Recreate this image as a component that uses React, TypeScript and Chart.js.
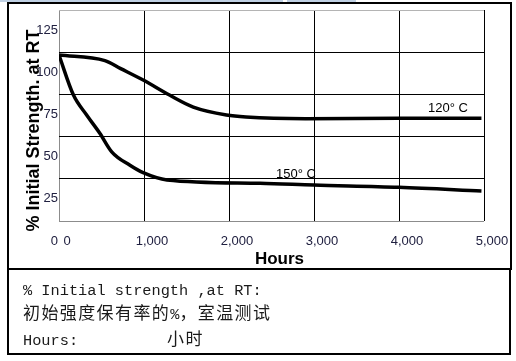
import React, { useEffect, useRef } from 'react';
import { Chart, registerables } from 'chart.js';

Chart.register(...registerables);

// Retention curves: hours of exposure vs. % of initial strength (tested at RT)
const hours120 = [0, 540, 720, 990, 1300, 1580, 1970, 2200, 2900, 4000, 4970];
const strength120 = [98.3, 95, 90.4, 83.5, 74.6, 67.5, 62.8, 61.6, 60.6, 60.8, 60.8];

const hours150 = [0, 170, 325, 480, 620, 835, 990, 1270, 2365, 3000, 4000, 4970];
const strength150 = [98.3, 74.6, 62.8, 52, 41, 33, 28.6, 24.3, 22.3, 21.3, 20, 17.8];

const seriesNames = ['120° C', '150° C'];

const xTitle = 'Hours';
const yTitle = '% Initial Strength. at RT';

const noteLine1 = '% Initial strength ,at RT:';
const noteLine2a = '初始强度保有率的';
const noteLine2b = '%';
const noteLine2c = '，室温测试';
const noteLine3a = 'Hours:';
const noteLine3b = '小时';

const SANS = "'Liberation Sans', Arial, sans-serif";
const MONO = "'Liberation Mono', 'DejaVu Sans Mono', monospace";
const CJK = "'Noto Sans CJK SC', sans-serif";

// Axis titles and in-plot series tags
const annotations = {
  id: 'annotations',
  afterDatasetsDraw(chart: any) {
    const { ctx, chartArea, scales } = chart;
    ctx.save();
    ctx.fillStyle = '#000';

    // vertical axis title
    ctx.save();
    ctx.font = `bold 18px ${SANS}`;
    ctx.textAlign = 'center';
    ctx.textBaseline = 'alphabetic';
    ctx.translate(39, (chartArea.top + chartArea.bottom) / 2 + 15);
    ctx.rotate(-Math.PI / 2);
    ctx.fillText(yTitle, 0, 0);
    ctx.restore();

    // horizontal axis title
    ctx.font = `bold 17px ${SANS}`;
    ctx.textAlign = 'center';
    ctx.textBaseline = 'alphabetic';
    ctx.fillText(xTitle, (chartArea.left + chartArea.right) / 2 + 8, chartArea.bottom + 43);

    // series tags placed in data coordinates
    const tags = [
      { h: 4576, v: 66.4 },
      { h: 2788, v: 27.8 },
    ];
    ctx.font = `13px ${SANS}`;
    ctx.textBaseline = 'middle';
    tags.forEach((t, i) => {
      ctx.fillText(seriesNames[i], scales.x.getPixelForValue(t.h), scales.y.getPixelForValue(t.v));
    });
    ctx.restore();
  },
};

export default function App() {
  const canvasRef = useRef<HTMLCanvasElement | null>(null);

  useEffect(() => {
    const canvas = canvasRef.current;
    if (!canvas) return;

    const toPoints = (xs: number[], ys: number[]) => xs.map((x, i) => ({ x, y: ys[i] }));

    const chart = new Chart(canvas, {
      type: 'line',
      data: {
        datasets: [
          {
            label: seriesNames[0],
            data: toPoints(hours120, strength120),
            borderColor: '#000',
            borderWidth: 3.5,
            pointRadius: 0,
            cubicInterpolationMode: 'monotone',
            fill: false,
          },
          {
            label: seriesNames[1],
            data: toPoints(hours150, strength150),
            borderColor: '#000',
            borderWidth: 3.5,
            pointRadius: 0,
            cubicInterpolationMode: 'monotone',
            fill: false,
          },
        ],
      },
      options: {
        responsive: false,
        animation: false,
        locale: 'en-US',
        layout: { padding: { left: 0, top: 10, right: 32, bottom: 0 } },
        plugins: {
          legend: { display: false },
          tooltip: { enabled: false },
        },
        scales: {
          x: {
            type: 'linear',
            min: 0,
            max: 5000,
            border: { display: false },
            grid: {
              drawTicks: false,
              lineWidth: 1,
              color: (c: any) => (c.tick && c.tick.value === 0 ? '#8c8c8c' : '#000'),
            },
            ticks: {
              stepSize: 1000,
              padding: 13,
              labelOffset: 8,
              maxRotation: 0,
              autoSkip: false,
              color: '#202040',
              font: { family: SANS, size: 13 },
            },
            afterFit: (s: any) => {
              s.height = 47;
            },
          },
          y: {
            type: 'linear',
            min: 0,
            max: 125,
            border: { display: false },
            grid: {
              drawTicks: false,
              lineWidth: 1,
              color: (c: any) => {
                const v = c.tick ? c.tick.value : null;
                if (v === 0) return '#8c8c8c';
                if (v === 125) return '#b4b4b4';
                return '#000';
              },
            },
            ticks: {
              stepSize: 25,
              padding: 1,
              labelOffset: 20,
              color: '#202040',
              font: { family: SANS, size: 13 },
            },
            afterFit: (s: any) => {
              s.width = 59;
            },
          },
        },
      },
      plugins: [annotations],
    });

    return () => chart.destroy();
  }, []);

  const noteText: React.CSSProperties = {
    position: 'absolute',
    left: 23,
    height: 20,
    lineHeight: '20px',
    whiteSpace: 'pre',
    color: '#1a1a1a',
    fontFamily: MONO,
    fontSize: 15.3,
  };
  const cjk: React.CSSProperties = { fontFamily: CJK, fontSize: 17, letterSpacing: 1.4 };

  return (
    <div
      style={{
        position: 'absolute',
        left: 0,
        top: 0,
        width: 516,
        height: 361,
        background: '#fff',
        overflow: 'hidden',
      }}
    >
      <div style={{ position: 'absolute', left: 0, top: 0, width: 283, height: 2, background: '#bfd0e3' }} />
      <div style={{ position: 'absolute', left: 287, top: 0, width: 69, height: 2, background: '#bfd0e3' }} />
      <canvas
        ref={canvasRef}
        width={516}
        height={268}
        style={{ position: 'absolute', left: 0, top: 0, width: 516, height: 268 }}
      />
      <div
        style={{
          position: 'absolute',
          left: 7,
          top: 2,
          width: 505,
          height: 268,
          boxSizing: 'border-box',
          border: '2px solid #000',
        }}
      />
      <div
        style={{
          position: 'absolute',
          left: 7,
          top: 268,
          width: 504,
          height: 87,
          boxSizing: 'border-box',
          border: '2px solid #000',
        }}
      />
      <div style={{ ...noteText, top: 281 }}>{noteLine1}</div>
      <div style={{ ...noteText, top: 302 }}>
        <span style={cjk}>{noteLine2a}</span>
        <span>{noteLine2b}</span>
        <span style={cjk}>{noteLine2c}</span>
      </div>
      <div style={{ ...noteText, top: 328 }}>
        <span>{noteLine3a}</span>
        <span style={{ ...cjk, marginLeft: 89 }}>{noteLine3b}</span>
      </div>
    </div>
  );
}
